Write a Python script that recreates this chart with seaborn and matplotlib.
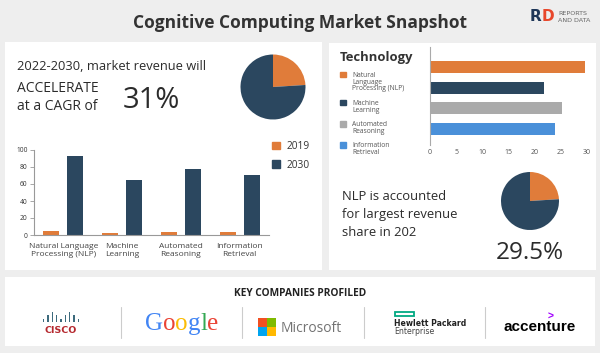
"""
Cognitive Computing Market Snapshot - infographic rebuild
"""
import numpy as np
import pandas as pd
import matplotlib.pyplot as plt
import seaborn as sns
from matplotlib.patches import Rectangle, Patch
from matplotlib.lines import Line2D

sns.set_style('white')
plt.rcParams['font.family'] = ['Open Sans', 'DejaVu Sans']

# ----------------------------------------------------------------------------
# DATA
# ----------------------------------------------------------------------------
segments = ['Natural Language\nProcessing (NLP)', 'Machine\nLearning',
            'Automated\nReasoning', 'Information\nRetrieval']
years = ['2019', '2030']
rev_2019 = [4.7, 2.8, 3.5, 3.5]
rev_2030 = [93.0, 64.5, 78.0, 71.0]

tech_names = ['Natural\nLanguage\nProcessing (NLP)', 'Machine\nLearning',
              'Automated\nReasoning', 'Information\nRetrieval']
share_2022 = [29.7, 21.7, 25.3, 23.9]

cagr_pie = [24, 76]
nlp_pie = [24, 76]

cisco_bars = [1, 2, 3, 2, 1, 2, 3, 2, 1]
google_letters = ['G', 'o', 'o', 'g', 'l', 'e']

ORANGE = '#E07C3A'
NAVY = '#2B475F'
TECH_COLORS = [ORANGE, NAVY, '#AAAAAA', '#4A90D9']
GOOGLE_COLORS = ['#4285F4', '#EA4335', '#FBBC05', '#4285F4', '#34A853', '#EA4335']
MS_COLORS = ['#F25022', '#7FBA00', '#00A4EF', '#FFB900']
TXT = '#2b2b2b'

W, H = 600, 353


def fx(x):
    return x / W


def fy(y):
    return 1 - y / H


fig = plt.figure(figsize=(W / 100, H / 100), dpi=100)
fig.patch.set_facecolor('#eeeeee')


def panel(x0, y0, x1, y1):
    fig.add_artist(Rectangle((fx(x0), fy(y1)), (x1 - x0) / W, (y1 - y0) / H,
                             transform=fig.transFigure, facecolor='white',
                             edgecolor='none', zorder=-5))


def add_ax(x0, y0, x1, y1):
    ax = fig.add_axes([fx(x0), fy(y1), (x1 - x0) / W, (y1 - y0) / H])
    ax.set_facecolor('none')
    return ax


def txt(x, y, s, **kw):
    kw.setdefault('va', 'baseline')
    kw.setdefault('color', TXT)
    return fig.text(fx(x), fy(y), s, **kw)


def chain(anchor, s, **kw):
    # place text right after the previous text artist
    return fig.add_artist(plt.Annotation(s, xy=(1, 0), xycoords=anchor,
                                         va='bottom', ha='left', **kw))


panel(5, 42, 322, 270)
panel(329, 43, 596, 270)
panel(5, 277, 595, 346)

# ----------------------------------------------------------------------------
# HEADER
# ----------------------------------------------------------------------------
txt(300, 28, 'Cognitive Computing Market Snapshot', ha='center',
    fontsize=12.5, fontweight='bold', color='#333333')
r_txt = txt(530, 24, 'R', fontsize=11, fontweight='heavy', color='#1d3557',
            family='DejaVu Sans', va='bottom')
chain(r_txt, 'D', fontsize=11, fontweight='heavy', color='#e8472b', family='DejaVu Sans')
txt(558, 15, 'REPORTS', fontsize=4.6, color='#666666', family='DejaVu Sans')
txt(558, 21.5, 'AND DATA', fontsize=4.6, color='#666666', family='DejaVu Sans')

# ----------------------------------------------------------------------------
# LEFT PANEL: CAGR text + pie
# ----------------------------------------------------------------------------
txt(17, 70, '2022-2030, market revenue will', fontsize=9.3)
txt(17, 92.5, 'ACCELERATE', fontsize=10)
txt(17, 110, 'at a CAGR of', fontsize=10)
txt(123, 108, '31%', fontsize=21)

ax_p1 = add_ax(273 - 32.5, 87 - 32.5, 273 + 32.5, 87 + 32.5)
ax_p1.pie(cagr_pie, colors=[ORANGE, NAVY], startangle=90, counterclock=False,
          wedgeprops=dict(linewidth=0))
ax_p1.set_xlim(-1, 1)
ax_p1.set_ylim(-1, 1)

# grouped bars 2019 vs 2030
df_rev = pd.DataFrame({'segment': segments * 2,
                       'year': [years[0]] * 4 + [years[1]] * 4,
                       'value': rev_2019 + rev_2030})
ax1 = add_ax(34, 150, 269, 235)
sns.barplot(data=df_rev, x='segment', y='value', hue='year',
            palette=[ORANGE, NAVY], width=0.82, gap=0.33, saturation=1,
            linewidth=0, legend=False, ax=ax1)
ax1.set_ylim(0, 100)
ax1.set_xlim(-0.5, 3.5)
ax1.set_yticks(range(0, 101, 20))
ax1.set_xlabel('')
ax1.set_ylabel('')
for s in ['top', 'right']:
    ax1.spines[s].set_visible(False)
for s in ['left', 'bottom']:
    ax1.spines[s].set_color('#999999')
    ax1.spines[s].set_linewidth(0.8)
ax1.tick_params(axis='y', length=3, width=0.6, color='#999999', pad=1.5,
                labelsize=4.8, labelcolor='#333333', left=True)
ax1.tick_params(axis='x', length=0, pad=6, labelsize=6, labelcolor='#444444')
for lab in ax1.get_xticklabels():
    lab.set_linespacing(1.05)

ax1.legend([Patch(color=ORANGE), Patch(color=NAVY)], years,
           loc='upper left', bbox_to_anchor=(fx(272), fy(141)),
           bbox_transform=fig.transFigure, frameon=False, fontsize=7.3,
           labelcolor='#333333', handlelength=0.8, handleheight=0.8,
           handletextpad=0.6, labelspacing=0.75, borderpad=0, borderaxespad=0)

# ----------------------------------------------------------------------------
# RIGHT PANEL: technology share bars
# ----------------------------------------------------------------------------
df_share = pd.DataFrame({'tech': tech_names, 'share': share_2022})
ax2 = add_ax(430, 47, 587, 145)
sns.barplot(data=df_share, x='share', y='tech', hue='tech', palette=TECH_COLORS,
            orient='h', width=0.58, saturation=1, linewidth=0, legend=False, ax=ax2)
ax2.set_xlim(0, 30)
ax2.set_ylim(3.77, -0.97)
ax2.set_yticks([])
ax2.set_xticks(range(0, 31, 5))
ax2.set_xlabel('')
ax2.set_ylabel('')
for s in ['top', 'right', 'bottom']:
    ax2.spines[s].set_visible(False)
ax2.spines['left'].set_color('#aaaaaa')
ax2.spines['left'].set_linewidth(0.8)
ax2.tick_params(axis='x', length=0, pad=3, labelsize=5, labelcolor='#555555')

leg = ax2.legend([Patch(color=c) for c in TECH_COLORS], tech_names,
                 title='Technology', loc='upper left',
                 bbox_to_anchor=(fx(340), fy(51.5)), bbox_transform=fig.transFigure,
                 frameon=False, fontsize=4.9, labelcolor='#555555',
                 title_fontproperties={'weight': 'bold', 'size': 9.4},
                 handlelength=0.85, handleheight=0.85, handletextpad=0.9,
                 labelspacing=1.1, borderpad=0, borderaxespad=0, alignment='left')
leg.get_title().set_color('#333333')
for t in leg.get_texts():
    t.set_linespacing(0.95)
# squares sit next to the first line of each label
for column in leg._legend_handle_box.get_children():
    for item in column.get_children():
        item.align = 'top'

# NLP share text + pie
txt(341.5, 199.5, 'NLP is accounted', fontsize=9.4)
txt(341.5, 218, 'for largest revenue', fontsize=9.4)
txt(341.5, 236, 'share in 202', fontsize=9.4)
txt(529.5, 259, '29.5%', ha='center', fontsize=17.5)

ax_p2 = add_ax(530 - 29, 201 - 29, 530 + 29, 201 + 29)
ax_p2.pie(nlp_pie, colors=[ORANGE, NAVY], startangle=90, counterclock=False,
          wedgeprops=dict(linewidth=0))
ax_p2.set_xlim(-1, 1)
ax_p2.set_ylim(-1, 1)

# ----------------------------------------------------------------------------
# BOTTOM PANEL: key companies
# ----------------------------------------------------------------------------
txt(300, 296, 'KEY COMPANIES PROFILED', ha='center', fontsize=7.3,
    fontweight='bold', color='#222222')
for sx in [121, 242, 364, 485]:
    fig.add_artist(Line2D([fx(sx), fx(sx)], [fy(307), fy(338)],
                          transform=fig.transFigure, color='#cccccc', lw=0.8))

# cisco
ax_c = add_ax(41, 312, 81, 322)
ax_c.bar(range(len(cisco_bars)), cisco_bars, width=0.35, color='#3d6b7d', linewidth=0)
ax_c.set_xlim(-0.6, len(cisco_bars) - 0.4)
ax_c.set_ylim(0, 3)
ax_c.axis('off')
txt(61, 333, 'CISCO', ha='center', fontsize=6.8, fontweight='bold',
    color='#b5282e', family='DejaVu Sans')

# Google, one colour per letter
anchor = txt(145, 335, google_letters[0], fontsize=18, color=GOOGLE_COLORS[0],
             family='Liberation Serif', va='bottom')
for letter, col in zip(google_letters[1:], GOOGLE_COLORS[1:]):
    anchor = chain(anchor, letter, fontsize=18, color=col, family='Liberation Serif')

# Microsoft
ax_m = add_ax(258, 318, 276, 336)
for (i, j), col in zip([(0, 1), (1, 1), (0, 0), (1, 0)], MS_COLORS):
    ax_m.add_patch(Rectangle((i * 1.06, j * 1.06), 1, 1, color=col, linewidth=0))
ax_m.set_xlim(0, 2.06)
ax_m.set_ylim(0, 2.06)
ax_m.axis('off')
txt(281, 332, 'Microsoft', fontsize=10, color='#737373')

# Hewlett Packard Enterprise
ax_h = add_ax(394, 311, 415, 317)
ax_h.add_patch(Rectangle((0.04, 0.1), 0.92, 0.8, facecolor='none',
                         edgecolor='#01A982', linewidth=1.3))
ax_h.set_xlim(0, 1)
ax_h.set_ylim(0, 1)
ax_h.axis('off')
txt(394, 326, 'Hewlett Packard', fontsize=5.6, fontweight='bold', color='#222222',
    family='DejaVu Sans')
txt(394, 334.5, 'Enterprise', fontsize=5.6, color='#444444', family='DejaVu Sans')

# accenture
txt(540, 331, 'accenture', ha='center', fontsize=11, fontweight='bold',
    color='#000000', family='Liberation Sans')
txt(551, 319.5, '>', ha='center', fontsize=7.5, fontweight='bold',
    color='#A100FF', family='Liberation Sans')

fig.savefig('out.png', dpi=100, facecolor=fig.get_facecolor())
